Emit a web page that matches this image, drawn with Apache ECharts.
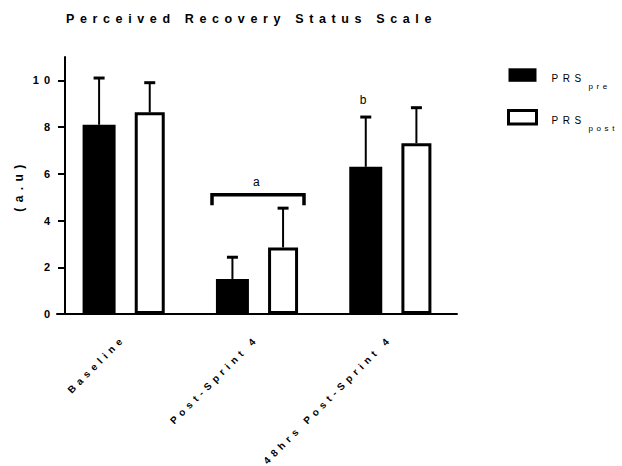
<!DOCTYPE html>
<html>
<head>
<meta charset="utf-8">
<script src="https://cdn.jsdelivr.net/npm/echarts@6/dist/echarts.min.js"></script>
<style>
html,body{margin:0;padding:0;background:#fff;}
#chart{width:622px;height:466px;}
#chart svg text{letter-spacing:0.45em;}
</style>
</head>
<body>
<div id="chart"></div>
<script>
// ---- data ----
var categories = ['Baseline', 'Post-Sprint 4', '48hrs Post-Sprint 4'];
var seriesNames = ['PRS_pre', 'PRS_post'];
var preMean = [8.1, 1.5, 6.3];
var preSD = [2.0, 0.93, 2.13];
var postMean = [8.63, 2.85, 7.31];
var postSD = [1.27, 1.68, 1.52];
var yTicks = [0, 2, 4, 6, 8, 10];
// significance annotations
var bracketData = [[1, 5.1, 4.65]];   // [categoryIndex, top value, leg end value]
var bracketLabel = [[1, 5.67, 'a']];  // [categoryIndex, value, text]
var preLabel = [[2, 9.16, 'b']];      // [categoryIndex, value, text] above PRS_pre bar

var FONT = 'Liberation Sans, Arial, sans-serif';
var PRE_W = 33, POST_W = 30, GAP = 0.58;
var TOTAL = PRE_W * (1 + GAP) + POST_W;
var PRE_OFF = -TOTAL / 2 + PRE_W / 2;
var POST_OFF = -TOTAL / 2 + PRE_W * (1 + GAP) + POST_W / 2;

function errorSeries(mean, sd, off, name) {
  return {
    type: 'custom',
    name: name + '_err',
    z: 5,
    data: mean.map(function (m, i) { return [i, m, m + sd[i]]; }),
    renderItem: function (params, api) {
      var base = api.coord([api.value(0), api.value(1)]);
      var top = api.coord([api.value(0), api.value(2)]);
      var x = base[0] + off;
      return {
        type: 'group',
        children: [
          { type: 'line', shape: { x1: x, y1: base[1], x2: x, y2: top[1] }, style: { stroke: '#000', lineWidth: 2 } },
          { type: 'rect', shape: { x: x - 5.5, y: top[1] - 1.5, width: 11, height: 3 }, style: { fill: '#000' } }
        ]
      };
    }
  };
}

var chart = echarts.init(document.getElementById('chart'), null, { renderer: 'svg' });
chart.setOption({
  animation: false,
  backgroundColor: '#fff',
  textStyle: { fontFamily: FONT, color: '#000' },
  title: {
    text: 'Perceived Recovery Status Scale',
    left: 61, top: 7,
    textStyle: { fontFamily: FONT, fontSize: 12.5, fontWeight: 'bold', color: '#000' }
  },
  legend: {
    left: 502, top: 63.3, orient: 'vertical',
    itemWidth: 28, itemHeight: 13.5, itemGap: 19,
    icon: 'rect',
    data: [
      { name: seriesNames[0], itemStyle: { color: '#000' } },
      { name: seriesNames[1], itemStyle: { color: '#fff', borderColor: '#000', borderWidth: 3 } }
    ],
    formatter: function (n) {
      var p = n.split('_');
      return '{a|' + p[0] + '}{b|' + p[1] + '}';
    },
    textStyle: {
      fontFamily: FONT, color: '#000',
      rich: {
        a: { fontFamily: FONT, fontSize: 10, color: '#000', width: 37, padding: [4, 0, 0, 10], lineHeight: 12, verticalAlign: 'top' },
        b: { fontFamily: FONT, fontSize: 8, color: '#000', padding: [13, 0, 0, 0], lineHeight: 8, verticalAlign: 'top' }
      }
    }
  },
  grid: { left: 57, width: 400, top: 57, bottom: 152 },
  xAxis: {
    type: 'category',
    data: categories,
    axisLine: { lineStyle: { color: '#000', width: 2 } },
    axisTick: { alignWithLabel: true, length: 6, lineStyle: { color: '#000', width: 2 } },
    axisLabel: { rotate: 45, margin: 23, fontFamily: FONT, fontSize: 10, fontWeight: 'bold', color: '#000' }
  },
  yAxis: {
    type: 'value', min: 0, max: 11,
    offset: -8,
    name: '(a.u)', nameLocation: 'middle', nameGap: 40, nameRotate: 90,
    nameTextStyle: { fontFamily: FONT, fontSize: 12, fontWeight: 'bold', color: '#000' },
    axisLine: { show: true, lineStyle: { color: '#000', width: 2 } },
    axisTick: { show: true, length: 7, lineStyle: { color: '#000', width: 2 }, customValues: yTicks },
    axisLabel: { margin: 10, fontFamily: FONT, fontSize: 11, fontWeight: 'bold', color: '#000', customValues: yTicks },
    splitLine: { show: false }
  },
  series: [
    { type: 'bar', name: seriesNames[0], data: preMean, barWidth: PRE_W, barGap: (GAP * 100) + '%', itemStyle: { color: '#000' } },
    { type: 'bar', name: seriesNames[1], data: postMean, barWidth: POST_W, barGap: (GAP * 100) + '%', itemStyle: { color: '#fff', borderColor: '#000', borderWidth: 3 } },
    errorSeries(preMean, preSD, PRE_OFF, seriesNames[0]),
    errorSeries(postMean, postSD, POST_OFF, seriesNames[1]),
    {
      type: 'custom', name: 'bracket', z: 6,
      data: bracketData,
      renderItem: function (params, api) {
        var top = api.coord([api.value(0), api.value(1)]);
        var bot = api.coord([api.value(0), api.value(2)]);
        var l = top[0] - 45, r = top[0] + 47;
        return {
          type: 'polyline',
          shape: { points: [[l, bot[1]], [l, top[1]], [r, top[1]], [r, bot[1]]] },
          style: { stroke: '#000', lineWidth: 3.5, fill: null }
        };
      }
    },
    {
      type: 'custom', name: 'labels', z: 7,
      data: bracketLabel.concat(preLabel),
      renderItem: function (params, api) {
        var isBracket = params.dataIndex < bracketLabel.length;
        var d = isBracket ? bracketLabel[params.dataIndex] : preLabel[params.dataIndex - bracketLabel.length];
        var off = isBracket ? 2 : PRE_OFF;
        var p = api.coord([d[0], d[1]]);
        return {
          type: 'text',
          style: { x: p[0] + off, y: p[1], text: d[2], fill: '#000', font: '12px ' + FONT, textAlign: 'center', textVerticalAlign: 'middle' }
        };
      }
    }
  ]
});
</script>
</body>
</html>
